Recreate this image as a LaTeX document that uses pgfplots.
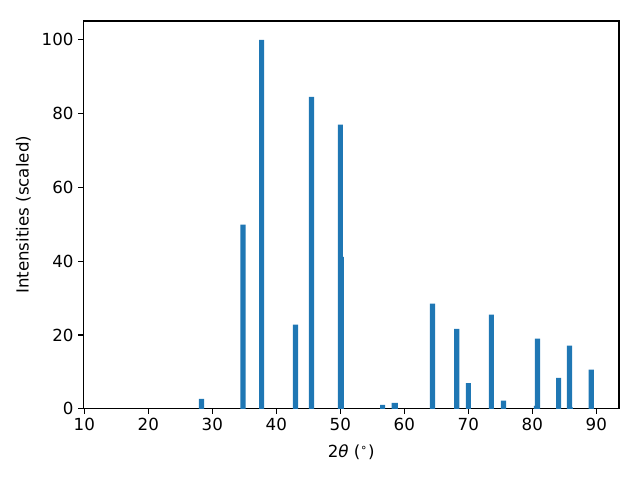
\documentclass[border=0pt]{standalone}
\usepackage{fontspec}
\setmainfont{DejaVu Sans}
\usepackage{pgfplots}
\pgfplotsset{compat=1.18}
\definecolor{mblue}{HTML}{1F77B4}
\begin{document}
\begin{tikzpicture}
\begin{axis}[
  name=ax,
  scale only axis,
  width=385.9pt, height=279.4pt,
  xmin=9.84, xmax=93.55,
  ymin=0, ymax=105.1,
  xtick={10,20,...,90},
  ytick={0,20,...,100},
  tick align=outside,
  tick pos=left,
  major tick length=3.5pt,
  every tick/.style={black, line width=0.8pt},
  axis line style={line width=0.8pt},
  tick label style={font=\fontsize{12}{14}\selectfont},
  label style={font=\fontsize{12}{14}\selectfont},
  /pgf/number format/assume math mode=true,
  xlabel={2\textit{θ} (\textsuperscript{∘})},
  ylabel={Intensities (scaled)},
  ylabel style={yshift=1pt},
  xlabel style={yshift=-3pt},
  ybar, bar width=0.8, bar shift=0pt,
]
\addplot[fill=mblue, draw=none] coordinates {
(28.3,2.7) (34.8,49.9) (37.7,100) (43.0,22.8) (45.5,84.5) (50.0,77.0)
(50.16,41.2) (56.6,1.1) (58.42,1.6) (58.58,1.6) (64.4,28.5) (68.2,21.7)
(70.0,7.0) (73.6,25.5) (75.5,2.2) (80.65,0.8) (80.8,19.0) (84.1,8.4)
(85.8,17.1) (85.95,0.4) (89.2,10.6)
};
\end{axis}
\path ([shift={(-60pt,-51.1pt)}]ax.south west) rectangle ([shift={(15.1pt,15.1pt)}]ax.north east);
\end{tikzpicture}
\end{document}
